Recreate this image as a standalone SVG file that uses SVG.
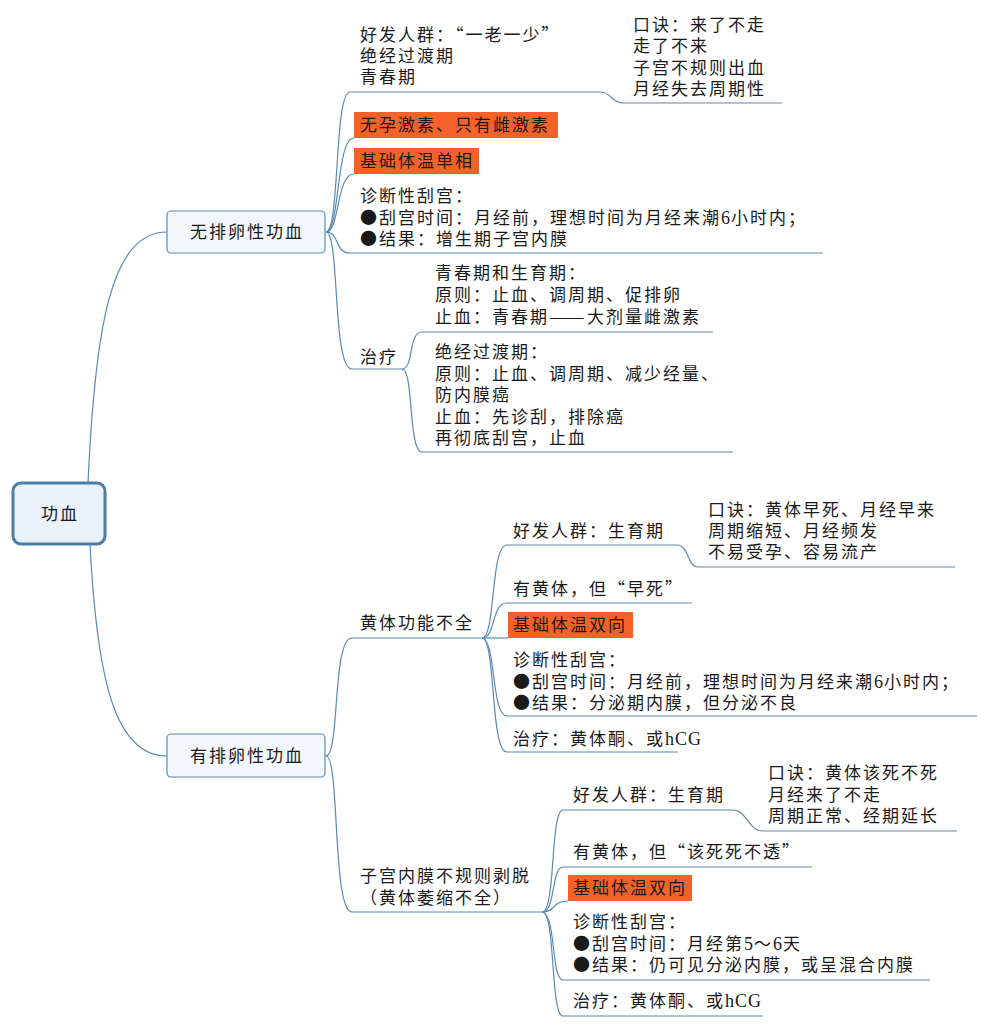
<svg xmlns="http://www.w3.org/2000/svg" width="988" height="1027" viewBox="0 0 988 1027">
<style>
text{font-family:"Noto Sans CJK SC","Liberation Sans",sans-serif;font-size:17px;letter-spacing:2px;fill:#1a1a1a}
.ln{fill:none;stroke:#5a8ab0;stroke-width:1.2}
.hl{fill:#f4622a}
.box{fill:#f3f8fc;stroke:#5a8ab0;stroke-width:1.2}
.root{fill:#e9f2fb;stroke:#4a7ea6;stroke-width:3}
.c{text-anchor:middle}
.lat{font-family:"Liberation Serif",serif;font-size:18px;letter-spacing:1px}
</style>
<rect width="988" height="1027" fill="#ffffff"/>
<g id="connectors">
<path class="ln" d="M88,483 C95,330 110,232 167,232"/>
<path class="ln" d="M90,544 C97,680 115,756 167,756"/>
<path class="ln" d="M326,232 C340,232 334,92 350,92"/>
<path class="ln" d="M326,232 C340,232 336,138 354,138"/>
<path class="ln" d="M326,232 C340,232 336,174 354,174"/>
<path class="ln" d="M326,232 C340,232 334,253 350,253"/>
<path class="ln" d="M326,232 C340,232 332,369 352,369"/>
<path class="ln" d="M600,92 C612,92 611,103 623,103"/>
<path class="ln" d="M402,369 C414,369 408,332 422,332"/>
<path class="ln" d="M402,369 C414,369 408,452 422,452"/>
<path class="ln" d="M326,756 C340,756 332,638 352,638"/>
<path class="ln" d="M326,756 C340,756 332,912 352,912"/>
<path class="ln" d="M482,638 C496,638 490,545 507,545"/>
<path class="ln" d="M482,638 C496,638 491,603 507,603"/>
<path class="ln" d="M482,638 L508,638"/>
<path class="ln" d="M482,638 C496,638 491,716 507,716"/>
<path class="ln" d="M482,638 C496,638 490,752 507,752"/>
<path class="ln" d="M677,545 C689,545 687,567 698,567"/>
<path class="ln" d="M542,912 C556,912 550,810 563,810"/>
<path class="ln" d="M542,912 C556,912 551,867 563,867"/>
<path class="ln" d="M542,912 C556,912 552,901 568,901"/>
<path class="ln" d="M542,912 C556,912 551,980 563,980"/>
<path class="ln" d="M542,912 C556,912 550,1016 563,1016"/>
<path class="ln" d="M733,810 C747,810 748,831 763,831"/>
</g>
<g id="root">
<rect class="root" x="13" y="483" width="92" height="61" rx="8"/>
<text class="c" x="60" y="520">功血</text>
</g>
<g id="anov">
<rect class="box" x="167" y="211" width="158" height="42" rx="4"/>
<text class="c" x="247" y="238">无排卵性功血</text>
</g>
<g id="anov-pop">
<path class="ln" d="M350,92 L600,92"/>
<text x="360" y="41">好发人群：“一老一少”<tspan x="360" dy="21">绝经过渡期</tspan><tspan x="360" dy="21">青春期</tspan></text>
</g>
<g id="anov-rhyme">
<path class="ln" d="M623,103 L782,103"/>
<text x="633" y="31">口诀：来了不走<tspan x="633" dy="21.3">走了不来</tspan><tspan x="633" dy="21.3">子宫不规则出血</tspan><tspan x="633" dy="21.3">月经失去周期性</tspan></text>
</g>
<g id="anov-hormone">
<rect class="hl" x="354" y="112" width="204" height="26"/>
<text x="360" y="131">无孕激素、只有雌激素</text>
</g>
<g id="anov-bbt">
<rect class="hl" x="354" y="148" width="125" height="26"/>
<text x="360" y="167">基础体温单相</text>
</g>
<g id="anov-dc">
<path class="ln" d="M350,253 L823,253"/>
<text x="360" y="202">诊断性刮宫：<tspan x="360" dy="21.5">●刮宫时间：月经前，理想时间为月经来潮<tspan class="lat">6</tspan>小时内；</tspan><tspan x="360" dy="21.5">●结果：增生期子宫内膜</tspan></text>
</g>
<g id="anov-tx">
<path class="ln" d="M352,369 L402,369"/>
<text x="360" y="363">治疗</text>
</g>
<g id="anov-tx-young">
<path class="ln" d="M422,332 L713,332"/>
<text x="435" y="279">青春期和生育期：<tspan x="435" dy="22">原则：止血、调周期、促排卵</tspan><tspan x="435" dy="22">止血：青春期<tspan textLength="38" lengthAdjust="spacingAndGlyphs">——</tspan>大剂量雌激素</tspan></text>
</g>
<g id="anov-tx-meno">
<path class="ln" d="M422,452 L733,452"/>
<text x="435" y="358">绝经过渡期：<tspan x="435" dy="21.5">原则：止血、调周期、减少经量、</tspan><tspan x="435" dy="21.5">防内膜癌</tspan><tspan x="435" dy="21.5">止血：先诊刮，排除癌</tspan><tspan x="435" dy="21.5">再彻底刮宫，止血</tspan></text>
</g>
<g id="ov">
<rect class="box" x="167" y="734" width="158" height="43" rx="4"/>
<text class="c" x="247" y="762">有排卵性功血</text>
</g>
<g id="lpd">
<path class="ln" d="M352,638 L482,638"/>
<text x="360" y="629">黄体功能不全</text>
</g>
<g id="lpd-pop">
<path class="ln" d="M507,545 L677,545"/>
<text x="513" y="537">好发人群：生育期</text>
</g>
<g id="lpd-rhyme">
<path class="ln" d="M698,567 L955,567"/>
<text x="708" y="516">口诀：黄体早死、月经早来<tspan x="708" dy="21">周期缩短、月经频发</tspan><tspan x="708" dy="21">不易受孕、容易流产</tspan></text>
</g>
<g id="lpd-cl">
<path class="ln" d="M507,603 L692,603"/>
<text x="513" y="595">有黄体，但“早死”</text>
</g>
<g id="lpd-bbt">
<rect class="hl" x="508" y="612" width="125" height="26"/>
<text x="513" y="631">基础体温双向</text>
</g>
<g id="lpd-dc">
<path class="ln" d="M507,716 L977,716"/>
<text x="513" y="666">诊断性刮宫：<tspan x="513" dy="21.5">●刮宫时间：月经前，理想时间为月经来潮<tspan class="lat">6</tspan>小时内；</tspan><tspan x="513" dy="21.5">●结果：分泌期内膜，但分泌不良</tspan></text>
</g>
<g id="lpd-tx">
<path class="ln" d="M507,752 L678,752"/>
<text x="513" y="745">治疗：黄体酮、或<tspan class="lat">hCG</tspan></text>
</g>
<g id="ies">
<path class="ln" d="M352,912 L542,912"/>
<text x="360" y="882">子宫内膜不规则剥脱<tspan x="360" dy="22">（黄体萎缩不全）</tspan></text>
</g>
<g id="ies-pop">
<path class="ln" d="M563,810 L733,810"/>
<text x="573" y="801">好发人群：生育期</text>
</g>
<g id="ies-rhyme">
<path class="ln" d="M763,831 L957,831"/>
<text x="768" y="779">口诀：黄体该死不死<tspan x="768" dy="21.5">月经来了不走</tspan><tspan x="768" dy="21.5">周期正常、经期延长</tspan></text>
</g>
<g id="ies-cl">
<path class="ln" d="M563,867 L812,867"/>
<text x="573" y="858">有黄体，但“该死死不透”</text>
</g>
<g id="ies-bbt">
<rect class="hl" x="568" y="875" width="124" height="26"/>
<text x="573" y="894">基础体温双向</text>
</g>
<g id="ies-dc">
<path class="ln" d="M563,980 L930,980"/>
<text x="573" y="928">诊断性刮宫：<tspan x="573" dy="21.5">●刮宫时间：月经第<tspan class="lat">5</tspan>～<tspan class="lat">6</tspan>天</tspan><tspan x="573" dy="21.5">●结果：仍可见分泌内膜，或呈混合内膜</tspan></text>
</g>
<g id="ies-tx">
<path class="ln" d="M563,1016 L763,1016"/>
<text x="573" y="1007">治疗：黄体酮、或<tspan class="lat">hCG</tspan></text>
</g>
</svg>
